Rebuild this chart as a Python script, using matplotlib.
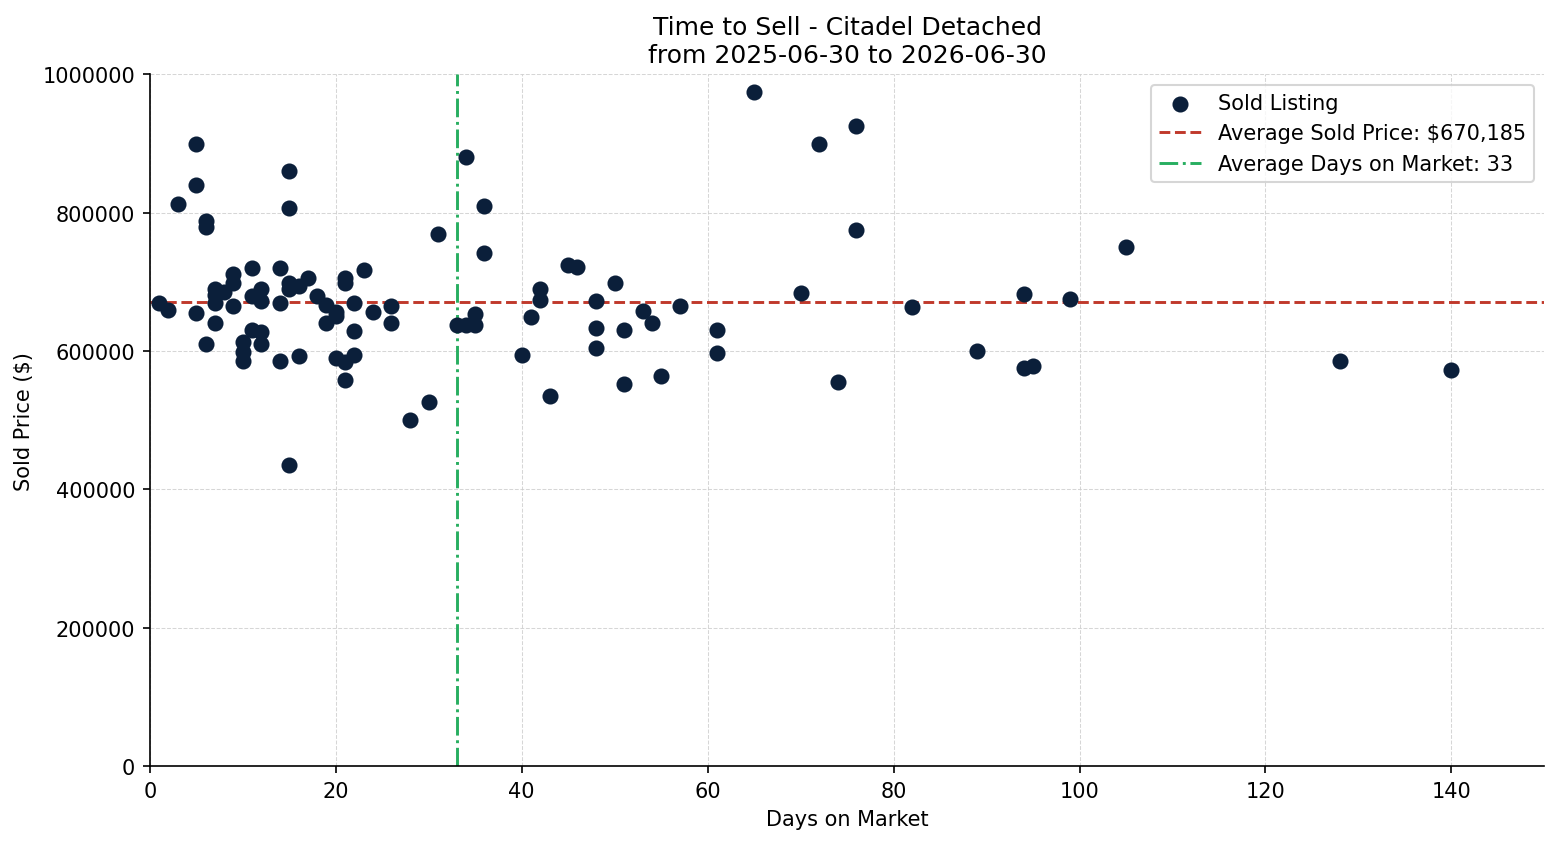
import numpy as np
import matplotlib.pyplot as plt

days = [1, 2, 3, 5, 5, 5, 6, 6, 6, 7, 7, 7, 7, 8, 9, 9, 9, 10, 10, 10,
        11, 11, 11, 12, 12, 12, 12, 14, 14, 14, 15, 15, 15, 15, 15, 16, 16,
        17, 18, 19, 19, 20, 20, 20, 21, 21, 21, 21, 22, 22, 22, 23, 24, 26,
        26, 28, 30, 31, 33, 34, 34, 35, 35, 36, 36, 40, 41, 42, 42, 43, 45,
        46, 48, 48, 48, 50, 51, 51, 53, 54, 55, 57, 61, 61, 65, 70, 72, 74,
        76, 76, 82, 89, 94, 94, 95, 99, 105, 128, 140]
prices = [670000, 660000, 812000, 899000, 840000, 655000, 788000, 779000, 610000,
          689000, 681000, 670000, 640000, 685000, 711000, 699000, 665000,
          613000, 598000, 585000, 720000, 679000, 631000, 689000, 672000,
          628000, 610000, 720000, 670000, 585000, 860000, 807000, 699000,
          690000, 435000, 694000, 593000, 705000, 680000, 667000, 640000,
          656000, 650000, 590000, 706000, 699000, 584000, 558000, 670000,
          629000, 594000, 717000, 656000, 665000, 640000, 500000, 526000,
          769000, 637000, 880000, 637000, 653000, 637000, 809000, 741000,
          595000, 649000, 690000, 674000, 535000, 724000, 722000, 672000,
          634000, 604000, 699000, 630000, 552000, 658000, 640000, 564000,
          665000, 630000, 597000, 974000, 684000, 899000, 556000, 925000,
          775000, 663000, 600000, 682000, 575000, 578000, 675000, 750000,
          585000, 572000]

avg_price = 670185
avg_days = 33

fig, ax = plt.subplots(figsize=(10.4, 5.633), dpi=150)

ax.scatter(days, prices, s=45, color='#0b1f3a', label='Sold Listing', zorder=3)
ax.axhline(avg_price, color='#c0392b', linestyle='--', linewidth=1.4,
           label=f'Average Sold Price: ${avg_price:,}')
ax.axvline(avg_days, color='#27ae60', linestyle='-.', linewidth=1.4,
           label=f'Average Days on Market: {avg_days}')

ax.set_xlim(0, 150)
ax.set_ylim(0, 1000000)
ax.ticklabel_format(axis='y', style='plain')
ax.grid(True, linestyle='--', linewidth=0.5, color='#cccccc', alpha=0.8)
ax.spines['top'].set_visible(False)
ax.spines['right'].set_visible(False)

ax.set_xlabel('Days on Market')
ax.set_ylabel('Sold Price ($)')
ax.set_title('Time to Sell - Citadel Detached\nfrom 2025-06-30 to 2026-06-30', fontsize=12)
ax.legend(loc='upper right')

plt.subplots_adjust(left=0.096, right=0.990, bottom=0.092, top=0.911)
plt.savefig('out.png')
